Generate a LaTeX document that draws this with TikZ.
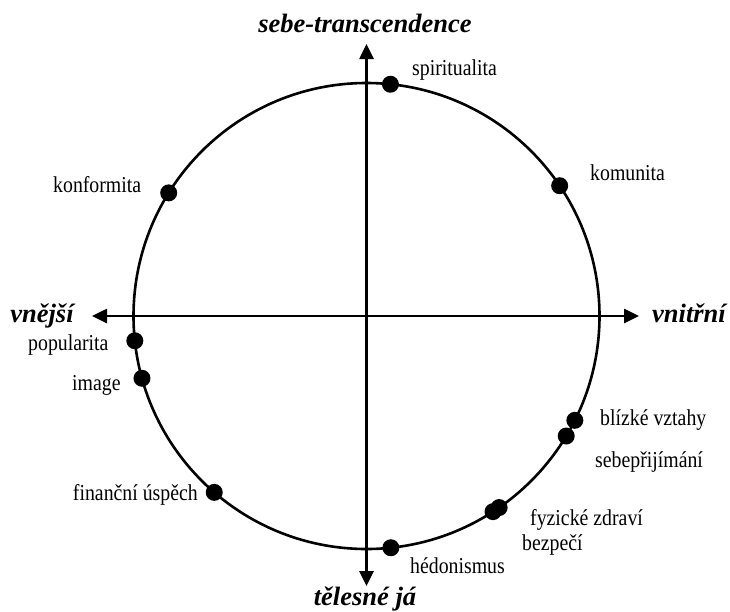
\documentclass[tikz,border=0pt]{standalone}
\usepackage{graphicx}
\usepackage{fontspec}
\setmainfont{Liberation Serif}
\usetikzlibrary{arrows.meta,calc}
% value labels are set slightly taller than the font's natural shape
\newcommand\valtext[1]{\scalebox{1}[1.15]{#1}}
\tikzset{
  ring/.style={line width=2.6pt},
  axis/.style={line width=2.6pt,-{Triangle[length=15pt,width=14pt]}},
  dot/.style={circle,fill=black,inner sep=0pt,minimum size=17pt},
  lab/.style={inner sep=0pt,anchor=base west,font=\fontsize{19.8}{22}\selectfont},
  pole/.style={inner sep=0pt,anchor=base,font=\fontsize{26.5}{30}\selectfont\bfseries\itshape},
}
\begin{document}
\begin{tikzpicture}[x=1pt,y=-1pt]
\useasboundingbox (0,0) rectangle (730,611);
\fill[white] (0,0) rectangle (730,611);

% centre of the value circle and tips of the four axis arrows
\coordinate (c) at (366.5,316);
\coordinate (e) at (639,316);
\coordinate (wtip) at (92,316);
\coordinate (n) at (366.5,44);
\coordinate (b) at (366.5,586);

\draw[ring] (c) circle[radius=233];
\draw[axis] (c) -- (e);
\draw[axis] (c) -- (wtip);
\draw[axis] (c) -- (n);
\draw[axis] (c) -- (b);

% values on the circle
\path (c) ++(-84.1:233)  node[dot] (spi) {};
\path (c) ++(-34.0:233)  node[dot] (kom) {};
\path (c) ++(-148.1:233) node[dot] (konf) {};
\path (c) ++(-186.1:233) node[dot] (pop) {};
\path (c) ++(-195.5:233) node[dot] (img) {};
\path (c) ++(-229.2:233) node[dot] (fin) {};
\path (c) ++(-276.0:233) node[dot] (hed) {};
\path (c) ++(-302.9:233) node[dot] (bez) {};
\path (c) ++(-304.7:233) node[dot] (fyz) {};
\path (c) ++(-329.0:233) node[dot] (seb) {};
\path (c) ++(-333.4:233) node[dot] (bli) {};

% value labels
\node[lab] (tspi)  at (412,75)  {\valtext{spiritualita}};
\node[lab] (tkom)  at (590,180) {\valtext{komunita}};
\node[lab] (tkonf) at (53,192)  {\valtext{konformita}};
\node[lab] (tpop)  at (28,350)  {\valtext{popularita}};
\node[lab] (timg)  at (72,390)  {\valtext{image}};
\node[lab,anchor=base east] (tfin) at (198,500) {\valtext{finanční úspěch}};
\node[lab] (thed)  at (410,573) {\valtext{hédonismus}};
\node[lab] (tbez)  at (522,550) {\valtext{bezpečí}};
\node[lab] (tfyz)  at (530,525) {\valtext{fyzické zdraví}};
\node[lab] (tseb)  at (595,467) {\valtext{sebepřijímání}};
\node[lab] (tbli)  at (600,425) {\valtext{blízké vztahy}};

% axis poles
\node[pole] (ptop)   at (365,32)  {sebe-transcendence};
\node[pole] (pbot)   at (365,605) {tělesné já};
\node[pole] (pleft)  at (42,322)  {vnější};
\node[pole] (pright) at (689,322) {vnitřní};
\end{tikzpicture}
\end{document}
